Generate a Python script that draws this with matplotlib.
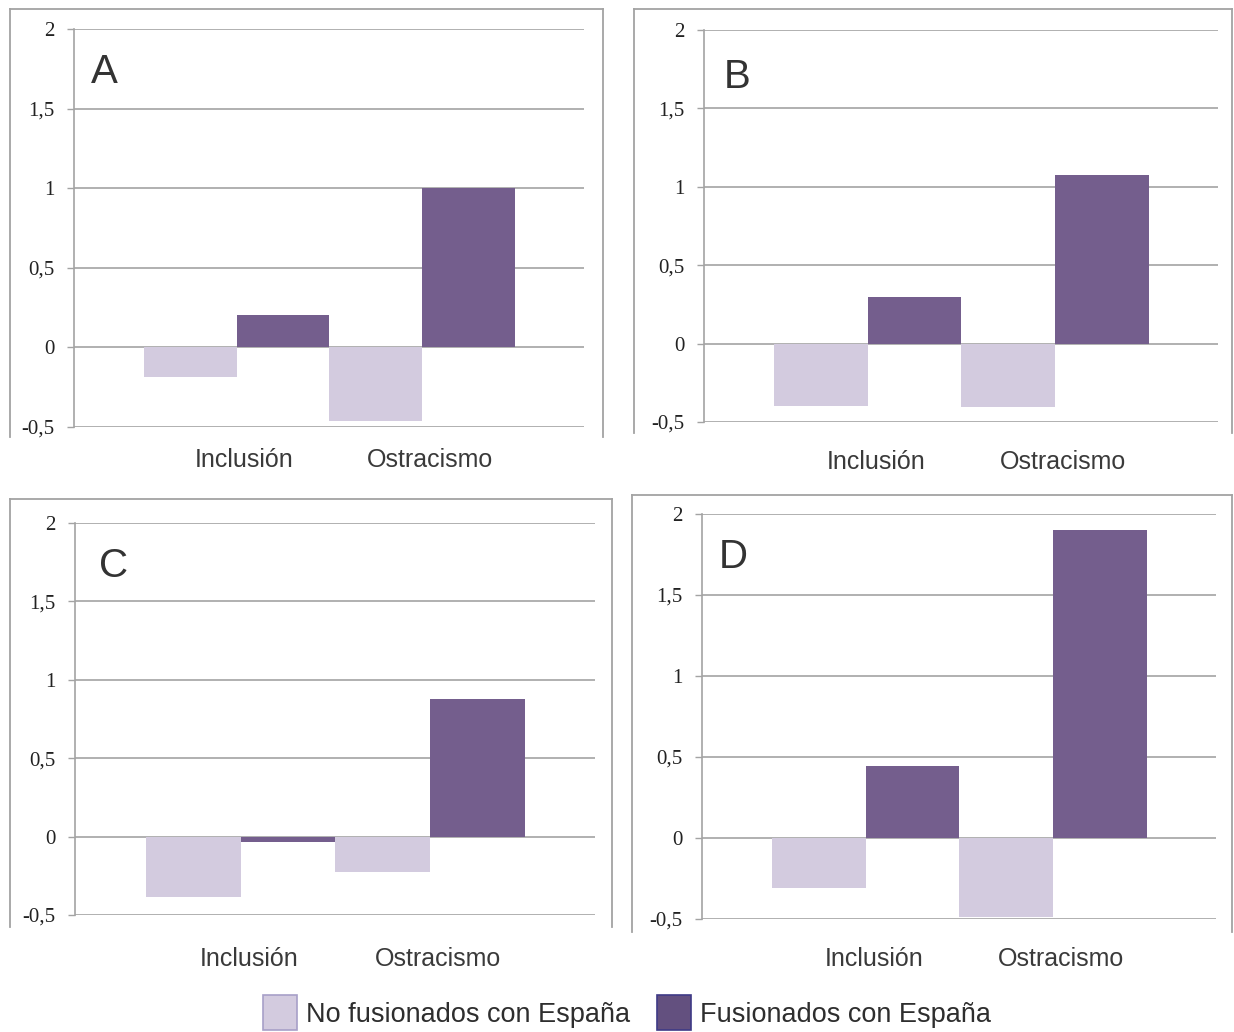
import matplotlib
matplotlib.use("Agg")
import matplotlib.pyplot as plt
from matplotlib.patches import Rectangle
from matplotlib.lines import Line2D
from matplotlib.transforms import ScaledTranslation

# data
categories = ["Inclusión", "Ostracismo"]
series_names = ["No fusionados con España", "Fusionados con España"]
panel_letters = ["A", "B", "C", "D"]

no_fusionados = {
    "A": [-0.185, -0.46],
    "B": [-0.395, -0.405],
    "C": [-0.385, -0.225],
    "D": [-0.31, -0.49],
}
fusionados = {
    "A": [0.205, 1.0],
    "B": [0.30, 1.075],
    "C": [-0.035, 0.875],
    "D": [0.445, 1.90],
}

ytick_vals = [-0.5, 0, 0.5, 1, 1.5, 2]
ytick_labels = ["-0,5", "0", "0,5", "1", "1,5", "2"]

light = "#D3CBDF"
dark = "#745E8D"
grid_c = "#A3A3A3"
frame_c = "#A3A3A3"

W, H = 1234, 1032
fig = plt.figure(figsize=(W / 100, H / 100), dpi=100)
fig.patch.set_facecolor("white")

# pixel layout: axes box (left, top, right, bottom), frame box, letter pos, label pad
layout = {
    "A": dict(ax=(74, 29, 584, 427), frame=(10, 9, 603, 437), letter=(91, 83), pad=15),
    "B": dict(ax=(704, 30, 1218, 422), frame=(634, 9, 1232, 433), letter=(724, 88), pad=20),
    "C": dict(ax=(75, 523, 595, 915), frame=(10, 499, 612, 927), letter=(99, 577), pad=23),
    "D": dict(ax=(702, 514, 1216, 919), frame=(632, 495, 1232, 932), letter=(719, 568), pad=20.5),
}


def fx(x):
    return x / W


def fy(y):
    return 1 - y / H


for p in panel_letters:
    lay = layout[p]
    l, t, r, b = lay["ax"]
    ax = fig.add_axes([fx(l), fy(b), (r - l) / W, (b - t) / H])

    # frame around panel (no bottom edge)
    fl, ft, fr, fb = lay["frame"]
    for xs, ys in [((fl, fr), (ft, ft)), ((fl, fl), (ft, fb)), ((fr, fr), (ft, fb))]:
        fig.add_artist(Line2D([fx(xs[0]), fx(xs[1])], [fy(ys[0]), fy(ys[1])],
                              color=frame_c, lw=1.3, transform=fig.transFigure))

    x = [0, 1]
    ax.bar([v - 0.25 for v in x], no_fusionados[p], width=0.5, color=light,
           edgecolor="none", zorder=3)
    ax.bar([v + 0.25 for v in x], fusionados[p], width=0.5, color=dark,
           edgecolor="none", zorder=3)

    ax.set_xlim(-0.875, 1.87)
    ax.set_ylim(-0.5, 2)
    ax.set_yticks(ytick_vals)
    ax.set_yticklabels(ytick_labels, family="Liberation Serif", fontsize=15, color="#222222")
    ax.tick_params(axis="y", length=5, width=1, color=grid_c, pad=9)
    ax.set_xticks(x)
    ax.set_xticklabels(categories, family="Liberation Sans", fontsize=18, color="#3a3a3a")
    ax.tick_params(axis="x", length=0, pad=lay["pad"])
    shift = ScaledTranslation(8 / 100, 0, fig.dpi_scale_trans)
    for lab in ax.get_xticklabels():
        lab.set_transform(lab.get_transform() + shift)

    ax.grid(axis="y", color=grid_c, lw=1.2, zorder=0)
    ax.set_axisbelow(True)
    for s in ["top", "right", "bottom"]:
        ax.spines[s].set_visible(False)
    ax.spines["left"].set_color(grid_c)
    ax.spines["left"].set_linewidth(1.2)

    lx, ly = lay["letter"]
    fig.text(fx(lx), fy(ly), p, family="Liberation Sans", fontsize=29,
             color="#333333", ha="left", va="baseline")

# legend at the bottom
leg_items = [
    (263, series_names[0], light, "#A79FC8"),
    (657, series_names[1], "#63507F", "#3E3A86"),
]
for x0, name, fc, ec in leg_items:
    fig.patches.append(Rectangle((fx(x0), fy(1030)), 34 / W, 35 / H, facecolor=fc,
                                 edgecolor=ec, lw=1.2, transform=fig.transFigure))
    fig.text(fx(x0 + 43), fy(1015), name, family="Liberation Sans", fontsize=19.5,
             color="#2e2e2e", ha="left", va="center")

fig.savefig("out.png", dpi=100, facecolor="white")
